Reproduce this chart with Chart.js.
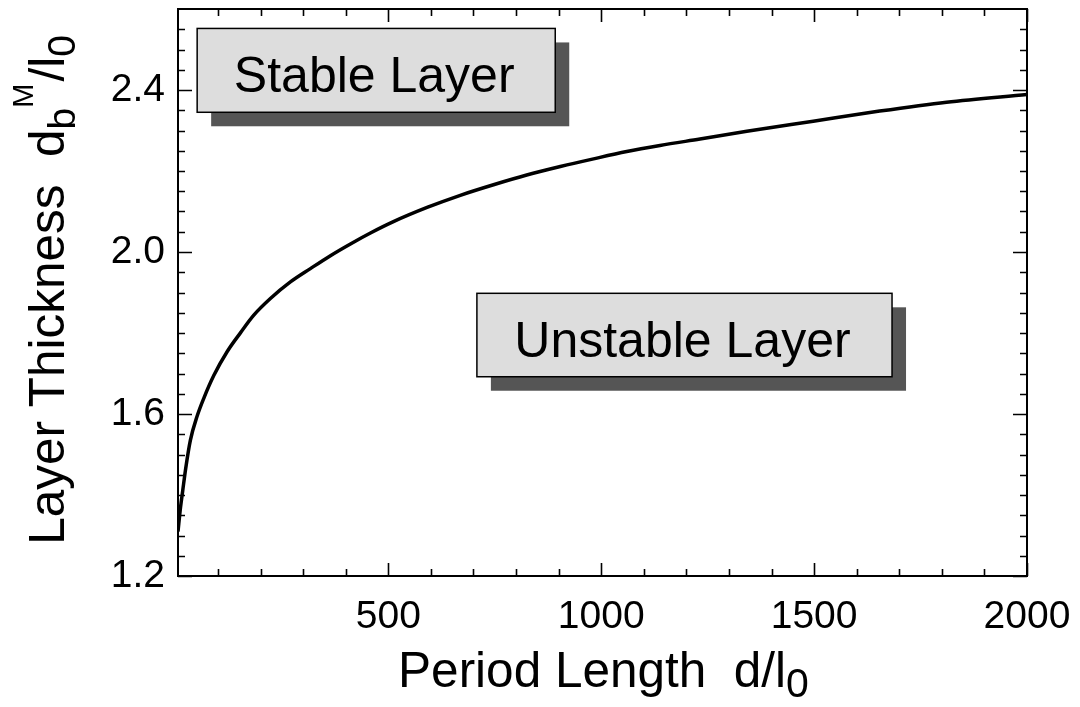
<!DOCTYPE html>
<html><head><meta charset="utf-8">
<script src="https://cdn.jsdelivr.net/npm/chart.js@4/dist/chart.umd.min.js"></script>
<style>html,body{margin:0;padding:0;background:#fff;}#wrap{width:1080px;height:707px;}</style>
</head><body><div id="wrap"><canvas id="c" width="1080" height="707"></canvas></div>
<script>
// ---- data ----
const periodLength = [6, 12, 17, 24, 35, 51, 67, 90, 122, 153, 184, 223, 270, 317, 364, 411, 458, 512, 591, 669, 747, 825, 904, 982, 1060, 1138, 1232, 1342, 1498, 1654, 1811, 2000];
const layerThickness = [1.31, 1.37, 1.41, 1.465, 1.535, 1.595, 1.640, 1.695, 1.755, 1.801, 1.844, 1.885, 1.926, 1.959, 1.991, 2.020, 2.047, 2.075, 2.110, 2.140, 2.166, 2.190, 2.211, 2.230, 2.248, 2.263, 2.279, 2.298, 2.323, 2.348, 2.370, 2.389];
const xTickLabels = [500, 1000, 1500, 2000];
const yTickLabels = [1.2, 1.6, 2.0, 2.4];
const xMinorTicks = [100, 200, 300, 400, 600, 700, 800, 900, 1100, 1200, 1300, 1400, 1600, 1700, 1800, 1900];
const yMinorTicks = [1.25, 1.3, 1.35, 1.4, 1.45, 1.5, 1.55, 1.65, 1.7, 1.75, 1.8, 1.85, 1.9, 1.95, 2.05, 2.1, 2.15, 2.2, 2.25, 2.3, 2.35, 2.45, 2.5, 2.55];
const regionLabels = ["Stable Layer", "Unstable Layer"];
const xTitleParts = ["Period Length  d/l", "0"];
const yTitleParts = ["Layer Thickness  d", "b", "M", "/l", "0"];

// ---- annotation placement (data coordinates) ----
const regionBoxes = [
  { x0: 51, x1: 892, y0: 2.345, y1: 2.552 },
  { x0: 708, x1: 1683, y0: 1.692, y1: 1.898 }
];

const FONT = '"Liberation Sans", Arial, Helvetica, sans-serif';

const noPad = s => { s.paddingTop = 0; s.paddingBottom = 0; s.paddingLeft = 0; s.paddingRight = 0; };

const framePlugin = {
  id: 'frame',
  afterDatasetsDraw(chart) {
    const ctx = chart.ctx, xs = chart.scales.x, ys = chart.scales.y;
    ctx.save();
    regionBoxes.forEach((b, i) => {
      const l = xs.getPixelForValue(b.x0), r = xs.getPixelForValue(b.x1);
      const t = ys.getPixelForValue(b.y1), bt = ys.getPixelForValue(b.y0);
      ctx.fillStyle = '#555555';
      ctx.fillRect(l + 14, t + 14, r - l, bt - t);
      ctx.fillStyle = '#dddddd';
      ctx.fillRect(l, t, r - l, bt - t);
      ctx.strokeStyle = '#000';
      ctx.lineWidth = 1.5;
      ctx.strokeRect(l, t, r - l, bt - t);
      ctx.fillStyle = '#000';
      ctx.font = '50px ' + FONT;
      ctx.textAlign = 'center';
      ctx.textBaseline = 'alphabetic';
      ctx.fillText(regionLabels[i], (l + r) / 2 - 2, (t + bt) / 2 + 22);
    });
    ctx.restore();
  },
  afterDraw(chart) {
    const ctx = chart.ctx, xs = chart.scales.x, ys = chart.scales.y;
    const { left, right, top, bottom } = chart.chartArea;
    ctx.save();
    ctx.strokeStyle = '#000';
    ctx.lineWidth = 1.6;
    const tickX = (v, len) => {
      const p = Math.round(xs.getPixelForValue(v)) + 0.5;
      ctx.beginPath();
      ctx.moveTo(p, bottom); ctx.lineTo(p, bottom - len);
      ctx.moveTo(p, top); ctx.lineTo(p, top + len);
      ctx.stroke();
    };
    const tickY = (v, len) => {
      const p = Math.round(ys.getPixelForValue(v)) + 0.5;
      ctx.beginPath();
      ctx.moveTo(left, p); ctx.lineTo(left + len, p);
      ctx.moveTo(right, p); ctx.lineTo(right - len, p);
      ctx.stroke();
    };
    xTickLabels.forEach(v => tickX(v, 13));
    xMinorTicks.forEach(v => tickX(v, 7));
    yTickLabels.forEach(v => tickY(v, 14));
    yMinorTicks.forEach(v => tickY(v, 7));
    ctx.lineWidth = 2;
    ctx.strokeRect(left, top, right - left, bottom - top);

    ctx.fillStyle = '#000';
    ctx.textBaseline = 'alphabetic';
    ctx.textAlign = 'left';
    const drawParts = (parts, cx, by) => {
      let tot = 0;
      parts.forEach(p => { ctx.font = p.s + 'px ' + FONT; p.w = ctx.measureText(p.t).width; tot += p.w + (p.gap || 0); });
      let x = cx - tot / 2;
      parts.forEach(p => { x += (p.gap || 0); ctx.font = p.s + 'px ' + FONT; ctx.fillText(p.t, x, by + p.dy); x += p.w; });
    };
    // x title
    drawParts([
      { t: xTitleParts[0], s: 49.5, dy: 0 },
      { t: xTitleParts[1], s: 41, dy: 10 }
    ], (left + right) / 2 + 1, 687);

    // y title (rotated)
    ctx.save();
    ctx.translate(64, 290);
    ctx.rotate(-Math.PI / 2);
    drawParts([
      { t: yTitleParts[0], s: 49.5, dy: 0 },
      { t: yTitleParts[1], s: 39, dy: 11 },
      { t: yTitleParts[2], s: 29, dy: -31 },
      { t: yTitleParts[3], s: 49.5, dy: 0, gap: 2 },
      { t: yTitleParts[4], s: 39, dy: 11 }
    ], 0, 0);
    ctx.restore();
    ctx.restore();
  }
};

const ctx = document.getElementById('c').getContext('2d');
new Chart(ctx, {
  type: 'scatter',
  data: {
    datasets: [{
      data: periodLength.map((x, i) => ({ x, y: layerThickness[i] })),
      showLine: true,
      borderColor: '#000',
      borderWidth: 3.5,
      pointRadius: 0,
      cubicInterpolationMode: 'monotone',
      fill: false
    }]
  },
  options: {
    responsive: false,
    animation: false,
    devicePixelRatio: 1,
    layout: { padding: { top: 9, right: 53, left: 0, bottom: 0 } },
    plugins: { legend: { display: false }, tooltip: { enabled: false } },
    scales: {
      x: {
        type: 'linear', min: 6, max: 2000,
        afterBuildTicks: s => { s.ticks = xTickLabels.map(v => ({ value: v })); },
        afterFit: s => { s.height = 131; noPad(s); },
        grid: { display: false, drawTicks: false },
        border: { display: false },
        ticks: { font: { family: FONT, size: 39 }, color: '#000', padding: 18, maxRotation: 0, autoSkip: false, callback: v => String(v) }
      },
      y: {
        type: 'linear', min: 1.2, max: 2.6,
        afterBuildTicks: s => { s.ticks = yTickLabels.map(v => ({ value: v })); },
        afterFit: s => { s.width = 178; noPad(s); },
        grid: { display: false, drawTicks: false },
        border: { display: false },
        ticks: { font: { family: FONT, size: 39 }, color: '#000', padding: 13, autoSkip: false, callback: v => Number(v).toFixed(1) }
      }
    }
  },
  plugins: [framePlugin]
});
</script>
</body></html>
